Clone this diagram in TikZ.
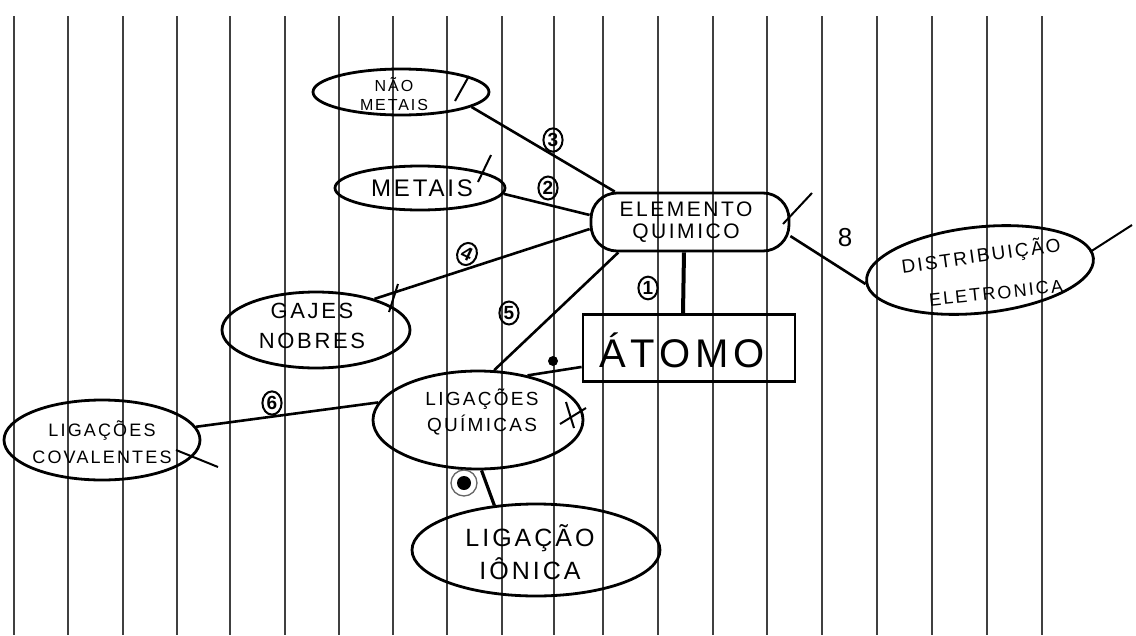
\documentclass[tikz,border=0pt]{standalone}
\usepackage{fontspec}
\setmainfont{Liberation Sans}
\newfontfamily\widehand[LetterSpace=12]{Liberation Sans}
\usetikzlibrary{shapes.geometric}
\begin{document}
\begin{tikzpicture}[x=1pt,y=-1pt,
  rule/.style={black!75, line width=1.5pt},
  concept/.style={draw, ellipse, line width=2.8pt, inner sep=0pt},
  words/.style={align=center, inner sep=0pt},
  link/.style={line width=2.6pt},
  num/.style={draw, ellipse, line width=2pt, inner sep=1.5pt, font=\fontsize{19}{19}\selectfont\bfseries},
  tickstroke/.style={line width=2pt},
  blob/.style={circle, fill=black, inner sep=0pt}
]
\useasboundingbox (0,0) rectangle (1136,635);
\fill[white] (0,0) rectangle (1136,635);
% ruled paper
\foreach \x in {14,68,123,177,230,285,339,393,447,502,554,603,658,713,767,822,877,932,987,1042}
  \draw[rule] (\x,16) -- (\x,635);

% concepts (shapes)
\node[concept, minimum width=176, minimum height=46] (nm) at (401,92) {};
\node[concept, minimum width=170, minimum height=44] (me) at (420,188) {};
\node[draw, rounded corners=26, line width=2.8pt, minimum width=198, minimum height=58] (el) at (690,222) {};
\node[concept, rotate=6, minimum width=228, minimum height=86] (di) at (980,270) {};
\node[draw, line width=2.8pt, minimum width=212, minimum height=67] (at) at (689,348) {};
\node[concept, minimum width=188, minimum height=76] (ga) at (316,330) {};
\node[concept, minimum width=210, minimum height=98] (lq) at (478,420) {};
\node[concept, minimum width=196, minimum height=80] (lc) at (102,440) {};
\node[concept, minimum width=248, minimum height=92] (li) at (536,550) {};

% concept texts
\node[words, font=\widehand\fontsize{16}{19}\selectfont] (nmt) at (394,94) {NÃO\\METAIS};
\node[words, font=\widehand\fontsize{24}{24}\selectfont] (met) at (422,188) {METAIS};
\node[words, font=\widehand\fontsize{21}{22}\selectfont] (elt) at (686,222) {ELEMENTO\\QUIMICO};
\node[words, rotate=8, font=\widehand\fontsize{19}{19}\selectfont] (dit1) at (981,256) {DISTRIBUIÇÃO};
\node[words, rotate=6, font=\widehand\fontsize{18}{18}\selectfont] (dit2) at (996,293) {ELETRONICA};
\node[words, font=\widehand\fontsize{40}{40}\selectfont] (att) at (682,350) {ÁTOMO};
\node[words, font=\widehand\fontsize{22}{30}\selectfont] (gat) at (312,326) {GAJES\\NOBRES};
\node[words, font=\widehand\fontsize{19}{26}\selectfont] (lqt) at (482,412) {LIGAÇÕES\\QUÍMICAS};
\node[words, font=\widehand\fontsize{18}{27}\selectfont] (lct) at (102,442) {LIGAÇÕES\\COVALENTES};
\node[words, font=\widehand\fontsize{25}{33}\selectfont] (lit) at (530,552) {LIGAÇÃO\\IÔNICA};

% connectors
\draw[link] (nm.-12) -- (el.158);
\draw[link] (me.-4) -- (el.176);
\draw[link] (ga.28) -- (el.184);
\draw[link] (el.203) -- (lq.72);
\draw[line width=4pt] ([xshift=-6]el.south) -- ([xshift=-6]at.north);
\draw[link] (el.-8) -- (di.181);
\draw[link] (lq.42) -- (at.190);
\draw[link] (lc.8) -- (lq.170);
\draw[line width=3.2pt] (lq.-86) -- (li.133);

% link labels
\node[num] (n3) at (553,140) {3};
\node[num] (n2) at (548,188) {2};
\node[num, rotate=-25] (n4) at (467,254) {4};
\node[num] (n5) at (509,313) {5};
\node[num] (n1) at (648,288) {1};
\node[font=\fontsize{26}{26}\selectfont] (n8) at (845,238) {8};
\node[num] (n6) at (272,403) {6};
\node[draw=black!60, circle, line width=1.3pt, minimum size=26] (n7) at (464,483) {};
\node[blob, minimum size=14] (n7b) at (n7.center) {};
\node[blob, minimum size=10] (n9) at (553,361) {};

% check marks
\draw[tickstroke] (455,101) -- (469,76);
\draw[tickstroke] (478,182) -- (491,155);
\draw[tickstroke] (783,224) -- (812,193);
\draw[tickstroke] (1090,252) -- (1132,225);
\draw[tickstroke] (389,312) -- (398,284);
\draw[tickstroke] (560,424) -- (586,408);
\draw[tickstroke] (566,402) -- (574,428);
\draw[tickstroke] (176,450) -- (218,467);
\end{tikzpicture}
\end{document}
